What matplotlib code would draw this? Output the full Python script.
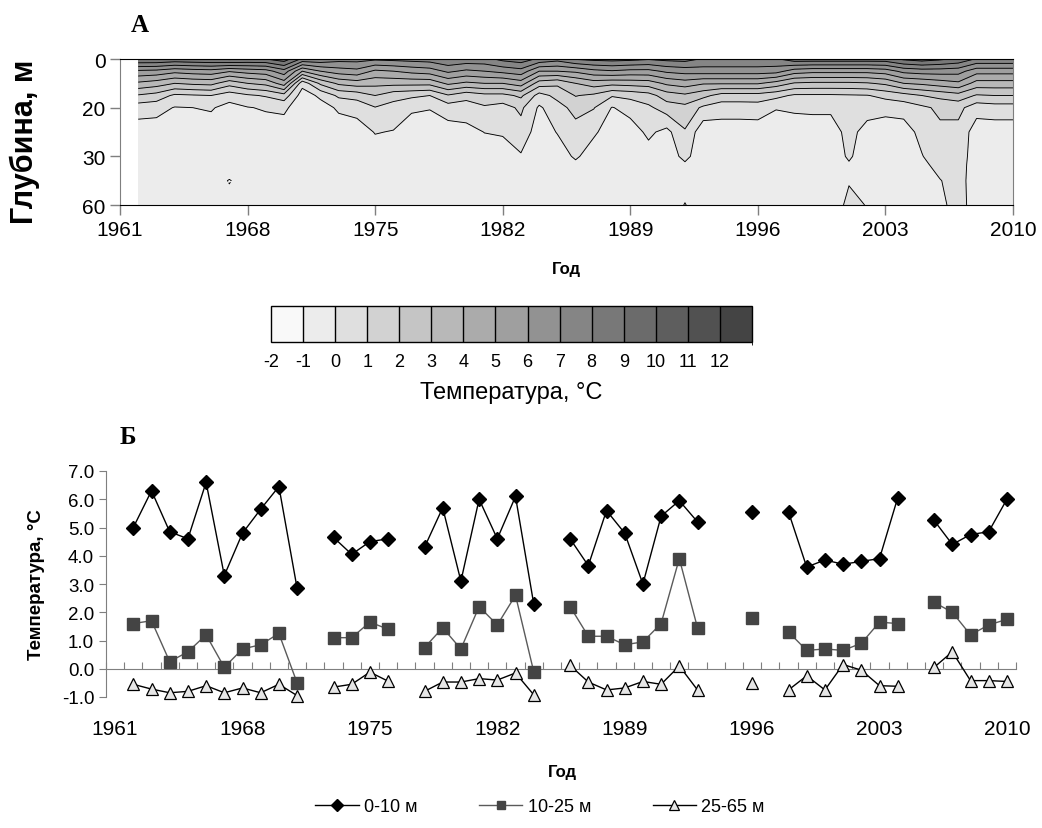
import numpy as np
import matplotlib
matplotlib.use("Agg")
import matplotlib.pyplot as plt
import matplotlib as mpl
from matplotlib.colors import ListedColormap, BoundaryNorm

plt.rcParams['font.family'] = ['Liberation Sans', 'DejaVu Sans']
plt.rcParams['axes.unicode_minus'] = False

# --- panel A: temperature section (rows = depth, columns = year 1962..2010) ---
years = np.arange(1962, 2011)
depths = [0, 5, 10, 15, 20, 25, 30, 35, 45, 60]

t_00 = [9.0, 9.0, 8.8, 8.9, 9.0, 9.2, 9.0, 9.0, 9.6, 7.8,
        7.8, 7.4, 7.4, 7.2, 7.3, 7.4, 7.5, 7.9, 7.7, 7.7,
        8.3, 8.6, 7.8, 7.4, 8.1, 8.3, 8.4, 8.3, 8.1, 8.3,
        8.4, 7.9, 7.9, 7.9, 7.9, 7.9, 8.6, 8.6, 8.6, 8.6,
        8.6, 8.6, 9.2, 9.5, 9.2, 8.8, 7.9, 7.9, 7.9]
t_05 = [5.8, 5.7, 5.3, 5.5, 5.6, 5.1, 5.4, 5.6, 6.6, 4.0,
        5.0, 5.5, 5.7, 4.8, 5.0, 5.3, 5.5, 6.2, 5.8, 6.0,
        6.3, 6.6, 5.0, 5.0, 5.2, 5.7, 5.9, 5.7, 5.7, 6.2,
        6.4, 6.5, 6.5, 6.5, 6.5, 6.4, 5.5, 5.3, 5.3, 5.3,
        5.3, 5.5, 6.3, 6.5, 6.5, 6.4, 5.4, 5.4, 5.4]
t_10 = [3.8, 3.5, 3.0, 3.2, 3.3, 2.4, 3.0, 3.3, 4.5, 0.35,
        2.2, 3.2, 3.5, 3.3, 3.3, 3.3, 3.3, 4.2, 3.8, 4.0,
        4.0, 4.5, 2.5, 2.2, 3.0, 3.5, 3.3, 3.4, 3.5, 4.2,
        4.5, 4.1, 4.1, 4.1, 4.1, 3.6, 2.9, 2.8, 2.8, 2.8,
        2.9, 3.2, 4.0, 4.2, 4.5, 4.8, 3.6, 3.6, 3.6]
t_15 = [1.9, 1.6, 0.8, 0.9, 1.0, 0.45, 0.85, 1.1, 1.6, -0.5,
        0.2, 1.2, 1.4, 2.0, 1.4, 1.2, 1.0, 1.9, 1.35, 1.7,
        1.7, 2.2, 0.6, 1.3, 2.05, 1.8, 1.1, 1.3, 1.6, 2.5,
        2.8, 2.3, 1.6, 1.6, 1.6, 1.3, 0.85, 0.85, 0.85, 0.9,
        0.95, 1.3, 1.6, 2.0, 2.3, 2.6, 1.9, 2.0, 2.0]
t_20 = [0.45, 0.35, -0.05, 0.0, 0.1, -0.35, -0.05, 0.1, 0.2, -0.6,
        -0.4, 0.15, 0.35, 0.95, 0.6, 0.15, 0.05, 0.5, 0.5, 0.85,
        0.6, 1.2, -0.15, 0.6, 1.35, 1.05, -0.05, 0.35, 0.8, 1.5,
        1.7, 0.8, 0.45, 0.45, 0.5, 0.05, 0.15, 0.2, 0.2, 0.5,
        0.45, 0.3, 0.4, 0.8, 1.2, 1.3, 0.4, 0.55, 0.55]
t_25 = [-0.5, -0.5, -0.5, -0.5, -0.5, -0.6, -0.5, -0.5, -0.5, -0.65,
        -0.55, -0.5, -0.45, 0.05, -0.05, -0.5, -0.5, -0.45, -0.3, 0.02,
        0.1, 0.6, -0.5, 0.05, 0.6, 0.15, -0.5, -0.45, 0.2, -0.3,
        0.9, -0.7, -0.5, -0.5, -0.5, -0.5, -0.5, -0.5, -0.5, 0.35,
        -0.4, -0.5, -0.45, 0.3, 0.8, 0.7, -0.5, -0.55, -0.55]
t_30 = [-0.6, -0.6, -0.6, -0.6, -0.6, -0.6, -0.6, -0.6, -0.6, -0.65,
        -0.6, -0.6, -0.6, -0.5, -0.5, -0.6, -0.6, -0.6, -0.55, -0.5,
        -0.45, -0.1, -0.6, -0.5, 0.15, -0.5, -0.6, -0.6, -0.4, -0.6,
        0.3, -0.7, -0.6, -0.6, -0.6, -0.6, -0.6, -0.6, -0.6, 0.15,
        -0.6, -0.6, -0.6, -0.05, 0.6, 0.6, -0.6, -0.6, -0.6]
t_35 = [-0.65, -0.65, -0.65, -0.65, -0.65, -0.65, -0.65, -0.65, -0.65, -0.7,
        -0.65, -0.65, -0.65, -0.6, -0.6, -0.65, -0.65, -0.65, -0.65, -0.6,
        -0.6, -0.4, -0.65, -0.6, -0.2, -0.6, -0.65, -0.65, -0.6, -0.65,
        -0.15, -0.7, -0.65, -0.65, -0.65, -0.65, -0.65, -0.65, -0.65, -0.1,
        -0.65, -0.65, -0.65, -0.3, 0.45, 0.55, -0.65, -0.65, -0.65]
t_45 = [-0.7, -0.7, -0.7, -0.7, -0.75, -1.03, -0.75, -0.7, -0.7, -0.7,
        -0.7, -0.7, -0.7, -0.7, -0.7, -0.7, -0.7, -0.7, -0.7, -0.7,
        -0.7, -0.6, -0.7, -0.7, -0.5, -0.7, -0.7, -0.7, -0.7, -0.7,
        -0.5, -0.7, -0.7, -0.7, -0.7, -0.7, -0.7, -0.7, -0.7, -0.08,
        -0.6, -0.7, -0.7, -0.5, -0.05, 0.5, -0.7, -0.7, -0.7]
t_60 = [-0.7, -0.7, -0.7, -0.7, -0.75, -0.8, -0.75, -0.7, -0.7, -0.7,
        -0.7, -0.7, -0.7, -0.7, -0.7, -0.7, -0.7, -0.7, -0.7, -0.7,
        -0.7, -0.7, -0.7, -0.7, -0.6, -0.7, -0.7, -0.7, -0.7, -0.7,
        0.05, -0.7, -0.7, -0.7, -0.7, -0.7, -0.7, -0.7, -0.7, 0.3,
        -0.05, -0.7, -0.7, -0.6, -0.3, 0.5, -0.6, -0.7, -0.7]

# --- panel B: layer means ---
t_0_10 = [5.0, 6.3, 4.85, 4.6, 6.6, 3.3, 4.8, 5.65, 6.45, 2.85,
          np.nan, 4.65, 4.05, 4.5, 4.6, np.nan, 4.3, 5.7, 3.1, 6.0,
          4.6, 6.1, 2.3, np.nan, 4.6, 3.65, 5.6, 4.8, 3.0, 5.4,
          5.95, 5.2, np.nan, np.nan, 5.55, np.nan, 5.55, 3.6, 3.85, 3.7,
          3.8, 3.9, 6.05, np.nan, 5.25, 4.4, 4.75, 4.85, 6.0]
t_10_25 = [1.6, 1.7, 0.25, 0.6, 1.2, 0.05, 0.7, 0.85, 1.25, -0.5,
           np.nan, 1.1, 1.1, 1.65, 1.4, np.nan, 0.75, 1.45, 0.7, 2.2,
           1.55, 2.6, -0.1, np.nan, 2.2, 1.15, 1.15, 0.85, 0.95, 1.6,
           3.9, 1.45, np.nan, np.nan, 1.8, np.nan, 1.3, 0.65, 0.7, 0.65,
           0.9, 1.65, 1.6, np.nan, 2.35, 2.0, 1.2, 1.55, 1.75]
t_25_65 = [-0.55, -0.72, -0.85, -0.8, -0.6, -0.85, -0.68, -0.85, -0.55, -0.95,
           np.nan, -0.65, -0.55, -0.12, -0.44, np.nan, -0.8, -0.47, -0.47, -0.35,
           -0.4, -0.15, -0.92, np.nan, 0.12, -0.47, -0.75, -0.68, -0.45, -0.55,
           0.1, -0.75, np.nan, np.nan, -0.5, np.nan, -0.75, -0.25, -0.75, 0.15,
           -0.05, -0.6, -0.62, np.nan, 0.05, 0.6, -0.42, -0.42, -0.45]

year_ticks = [1961, 1968, 1975, 1982, 1989, 1996, 2003, 2010]
depth_ticks = [0, 20, 30, 60]
levels = np.arange(-2, 14)

W, H = 1042, 829
fig = plt.figure(figsize=(W / 100, H / 100), dpi=100)


def box(x0, y0, x1, y1):
    return [x0 / W, 1 - y1 / H, (x1 - x0) / W, (y1 - y0) / H]


greys = np.linspace(249, 68, 15) / 255
cmap = ListedColormap([(g, g, g) for g in greys])
norm = BoundaryNorm(levels, cmap.N)
axis_grey = '#7f7f7f'

# depth axis: 0, 20, 30, 60 m are equally spaced
dep_knots = [0, 20, 30, 60]
pos_knots = [0, 1, 2, 3]


def fwd(d):
    return np.interp(d, dep_knots, pos_knots)


def inv(p):
    return np.interp(p, pos_knots, dep_knots)


ax1 = fig.add_axes(box(120, 60, 1013, 206))
ax1.set_yscale('function', functions=(fwd, inv))
temp = np.array([t_00, t_05, t_10, t_15, t_20, t_25, t_30, t_35, t_45, t_60])
ax1.contourf(years, depths, temp, levels=levels, cmap=cmap, norm=norm)
ax1.contour(years, depths, temp, levels=levels[1:-1], colors='black', linewidths=0.65)
ax1.set_xlim(1961, 2010)
ax1.set_ylim(60, 0)
ax1.set_xticks(year_ticks)
ax1.set_yticks(depth_ticks)
ax1.set_yticklabels([str(d) for d in depth_ticks])
ax1.tick_params(labelsize=15, length=7, color=axis_grey, width=1)
for s in ['left', 'right']:
    ax1.spines[s].set_color(axis_grey)
for s in ['top', 'bottom']:
    ax1.spines[s].set_color('black')
fig.text(25 / W, 1 - 142 / H, 'Глубина, м', rotation=90, ha='center', va='center',
         fontsize=22, fontweight='bold')
fig.text(566 / W, 1 - 270 / H, 'Год', ha='center', va='center', fontsize=12, fontweight='bold')
fig.text(140 / W, 1 - 25 / H, 'А', ha='center', va='center', fontsize=18, fontweight='bold',
         family='Liberation Serif')

# colour scale
cax = fig.add_axes(box(271, 307, 752, 343))
cb = mpl.colorbar.ColorbarBase(cax, cmap=cmap, norm=norm, boundaries=levels,
                               orientation='horizontal', ticks=levels[:-1], drawedges=True)
cb.outline.set_linewidth(1)
cb.dividers.set_linewidth(1)
cax.tick_params(length=0, labelsize=13, pad=8)
cb.set_label('Температура, °C', fontsize=17, labelpad=8)

# --- panel B ---
ax2 = fig.add_axes(box(106, 472, 1016, 698))
ax2.plot(years, t_0_10, '-D', color='black', lw=1, ms=7.5, mfc='black', mec='black',
         label='0-10 м', zorder=4, clip_on=False)
ax2.plot(years, t_10_25, '-s', color='#5a5a5a', lw=1, ms=8, mfc='#444444', mec='#444444',
         label='10-25 м', zorder=3, clip_on=False)
ax2.plot(years, t_25_65, '-^', color='black', lw=1, ms=9, mfc='#e6e6e6', mec='black', mew=0.9,
         label='25-65 м', zorder=3, clip_on=False)
ax2.set_xlim(1960.5, 2010.5)
ax2.set_ylim(-1, 7)
ax2.set_yticks(np.arange(-1, 8))
ax2.yaxis.set_major_formatter(mpl.ticker.FormatStrFormatter('%.1f'))
ax2.tick_params(axis='y', labelsize=13.5, length=5, color=axis_grey)
for s in ['top', 'right']:
    ax2.spines[s].set_visible(False)
ax2.spines['left'].set_color(axis_grey)
ax2.spines['bottom'].set_position(('data', 0))
ax2.spines['bottom'].set_color(axis_grey)
ax2.set_xticks(np.arange(1960.5, 2011, 1.0))
ax2.set_xticklabels([])
ax2.tick_params(axis='x', direction='in', length=5, color=axis_grey)
sec = ax2.secondary_xaxis('bottom')
sec.spines['bottom'].set_visible(False)
sec.set_xticks(year_ticks)
sec.tick_params(length=0, labelsize=15, pad=16)
fig.text(37 / W, 1 - 585 / H, 'Температура, °C', rotation=90, ha='center', va='center',
         fontsize=13.5, fontweight='bold')
fig.text(562 / W, 1 - 773 / H, 'Год', ha='center', va='center', fontsize=12, fontweight='bold')
fig.text(128 / W, 1 - 437 / H, 'Б', ha='center', va='center', fontsize=18, fontweight='bold',
         family='Liberation Serif')

fig.legend(*ax2.get_legend_handles_labels(), loc='center', bbox_to_anchor=(540 / W, 1 - 808 / H),
           ncol=3, frameon=False, fontsize=13, handlelength=2.4, columnspacing=3.4,
           handletextpad=0.3, markerscale=0.8)

fig.savefig('out.png', dpi=100)
